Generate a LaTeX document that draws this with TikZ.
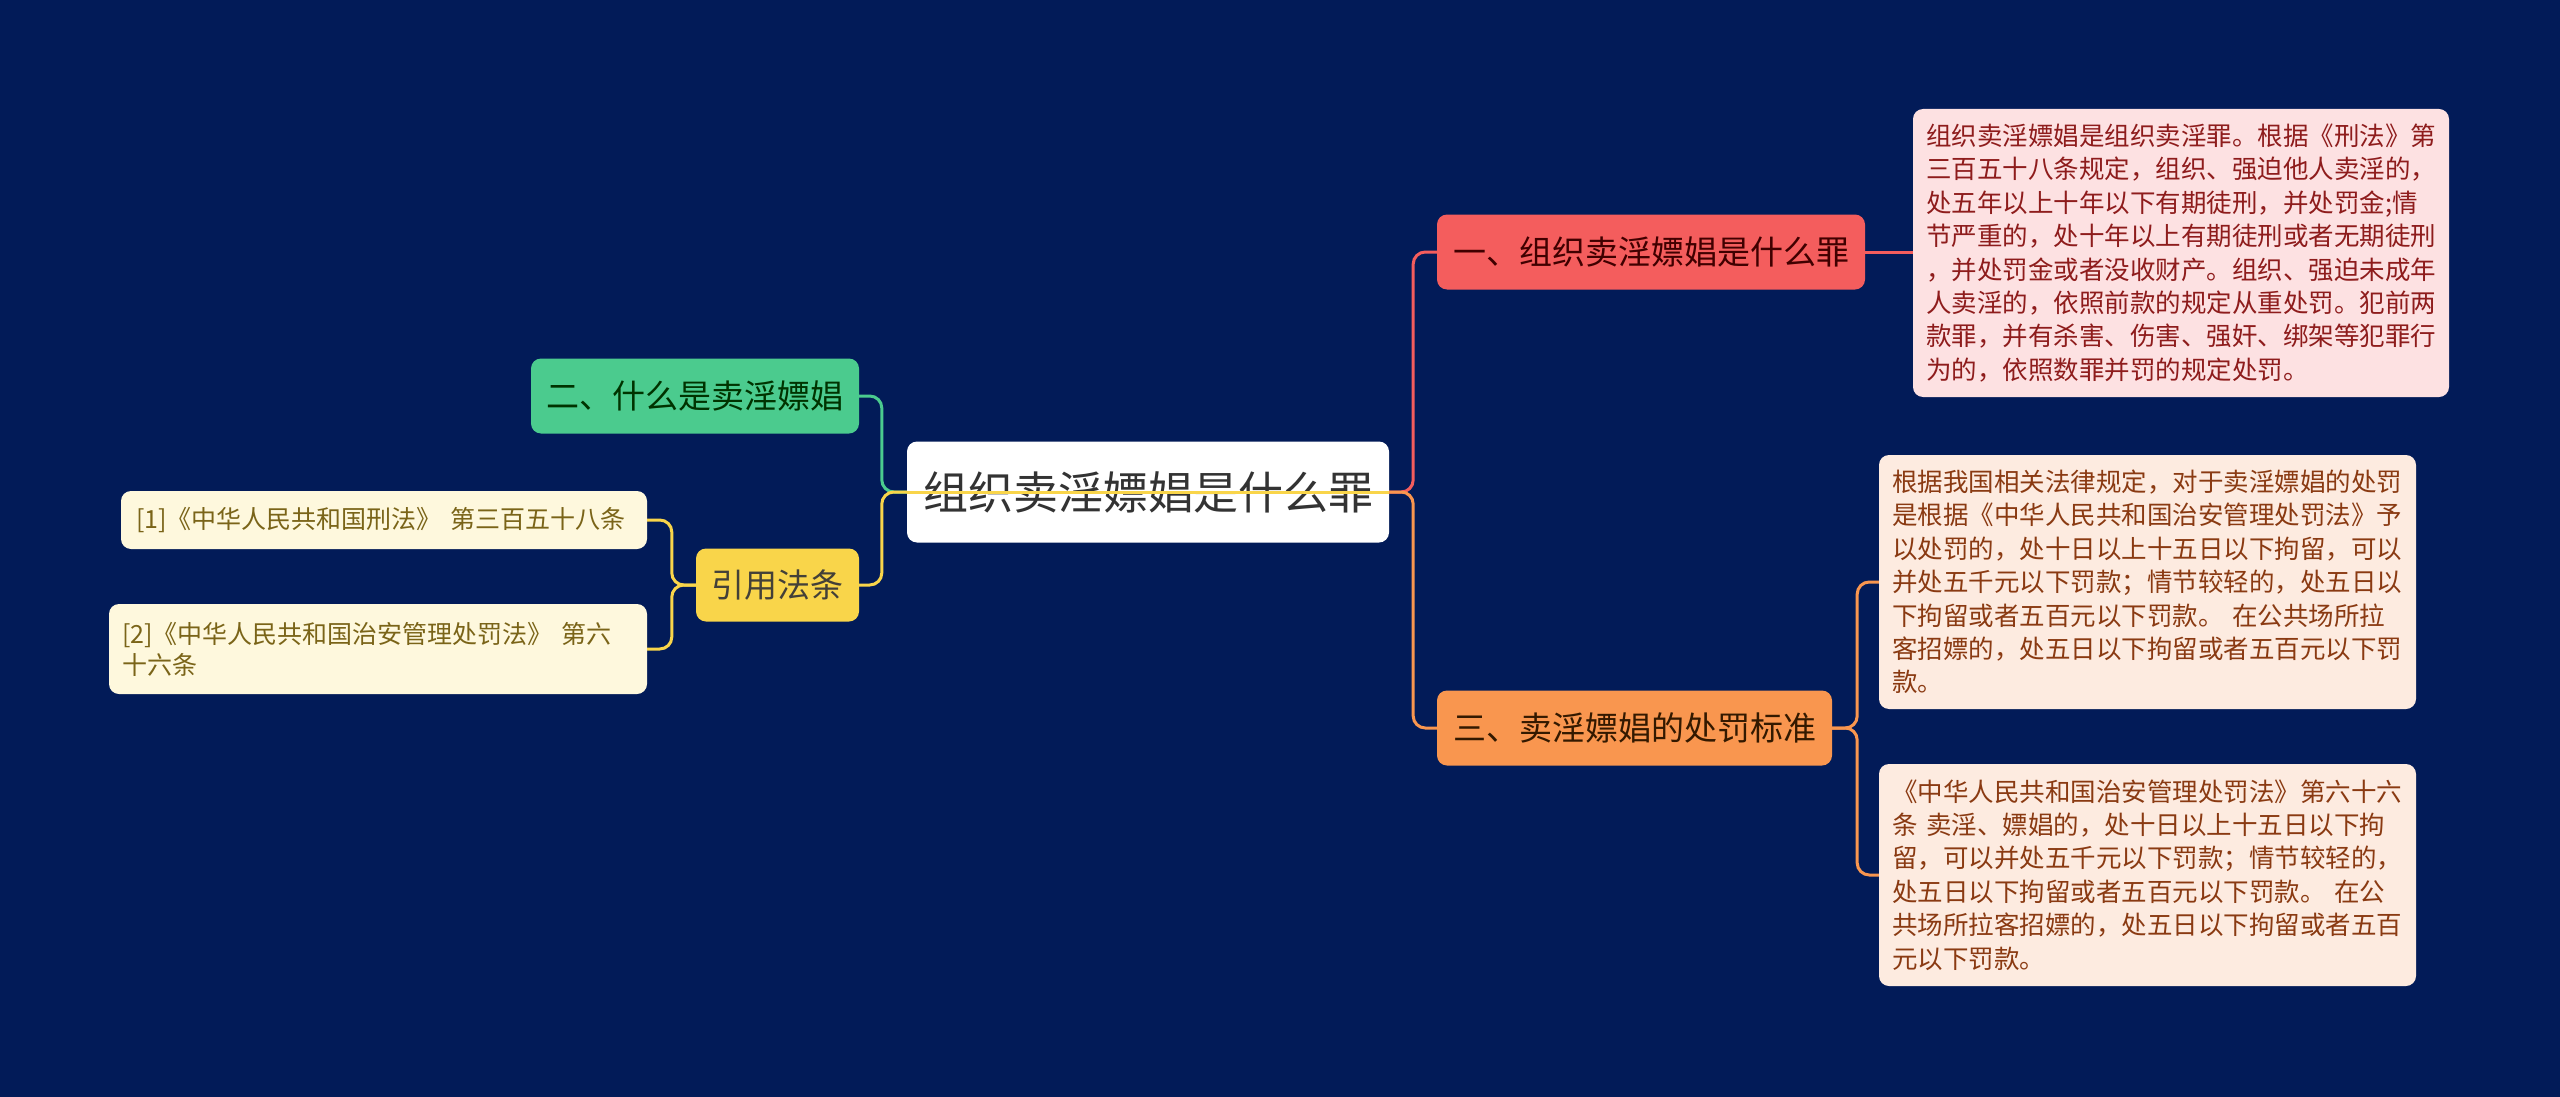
\documentclass[tikz,border=0pt]{standalone}
\usepackage{fontspec}
\setmainfont{Noto Sans CJK SC}
\definecolor{bg}{HTML}{021B58}
\definecolor{cred}{HTML}{F45D5D}
\definecolor{corg}{HTML}{F9964F}
\definecolor{cgrn}{HTML}{4BCB8E}
\definecolor{cyel}{HTML}{F9D54A}
\definecolor{cream}{HTML}{FEF8DD}
\definecolor{creamtxt}{HTML}{7A6418}
\definecolor{pink}{HTML}{FDE1E2}
\definecolor{pinktxt}{HTML}{8E1C1C}
\definecolor{peach}{HTML}{FDEBE0}
\definecolor{peachtxt}{HTML}{8A3A12}
\begin{document}
\begin{tikzpicture}[x=1pt,y=-1pt,
  box/.style={rounded corners=10pt, inner sep=0pt, align=center},
  branch/.style={box, font=\fontsize{33}{40}\selectfont, minimum height=75pt},
  leafbox/.style={rounded corners=10pt, inner xsep=13pt, inner ysep=0pt, align=left},
  conn/.style={line width=3pt, rounded corners=12pt}]
\fill[bg] (0,0) rectangle (2560,1097);
\useasboundingbox (0,0) rectangle (2560,1097);
% central
\node[box, fill=white, text=black!80, font=\fontsize{45}{54}\selectfont,
  minimum width=482pt, minimum height=101pt] (c) at (1148,492) {组织卖淫嫖娼是什么罪};
% branches
\node[branch, fill=cred, text=black!75!red, minimum width=428pt] (n1) at (1651,252) {一、组织卖淫嫖娼是什么罪};
\node[branch, fill=corg, text=black!80!orange, minimum width=395pt] (n3) at (1634.5,728) {三、卖淫嫖娼的处罚标准};
\node[branch, fill=cgrn, text=black!80!green, minimum width=328pt] (n2) at (695,396) {二、什么是卖淫嫖娼};
\node[branch, fill=cyel, text=black!85!yellow, minimum width=163pt, minimum height=73pt] (n4) at (777.5,585) {引用法条};
% left leaves
\node[leafbox, fill=cream, text=creamtxt, font=\fontsize{25}{31}\selectfont,
  inner xsep=15pt, text width=496pt, minimum height=58pt] (p1) at (384,520) {[1]《中华人民共和国刑法》 第三百五十八条};
\node[leafbox, fill=cream, text=creamtxt, font=\fontsize{25}{31}\selectfont,
  text width=512pt, minimum height=90pt] (p2) at (378,649) {[2]《中华人民共和国治安管理处罚法》 第六\\十六条};
% right leaves
\node[leafbox, fill=pink, text=pinktxt, font=\fontsize{25.5}{33.4}\selectfont,
  text width=510pt, minimum height=288pt] (t1) at (2181,253) {组织卖淫嫖娼是组织卖淫罪。根据《刑法》第\\三百五十八条规定，组织、强迫他人卖淫的，\\处五年以上十年以下有期徒刑，并处罚金;情\\节严重的，处十年以上有期徒刑或者无期徒刑\\，并处罚金或者没收财产。组织、强迫未成年\\人卖淫的，依照前款的规定从重处罚。犯前两\\款罪，并有杀害、伤害、强奸、绑架等犯罪行\\为的，依照数罪并罚的规定处罚。};
\node[leafbox, fill=peach, text=peachtxt, font=\fontsize{25.5}{33.4}\selectfont,
  text width=511pt, minimum height=254pt] (t2) at (2147.5,582) {根据我国相关法律规定，对于卖淫嫖娼的处罚\\是根据《中华人民共和国治安管理处罚法》予\\以处罚的，处十日以上十五日以下拘留，可以\\并处五千元以下罚款；情节较轻的，处五日以\\下拘留或者五百元以下罚款。 在公共场所拉\\客招嫖的，处五日以下拘留或者五百元以下罚\\款。};
\node[leafbox, fill=peach, text=peachtxt, font=\fontsize{25.5}{33.4}\selectfont,
  text width=511pt, minimum height=222pt] (t3) at (2147.5,875) {《中华人民共和国治安管理处罚法》第六十六\\条 卖淫、嫖娼的，处十日以上十五日以下拘\\留，可以并处五千元以下罚款；情节较轻的，\\处五日以下拘留或者五百元以下罚款。 在公\\共场所拉客招嫖的，处五日以下拘留或者五百\\元以下罚款。};
% connectors
\draw[conn, cred] (c.east) -- ++(24,0) |- (n1.west);
\draw[conn, corg] (c.east) -- ++(24,0) |- (n3.west);
\draw[conn, cgrn] (c.west) -- ++(-25,0) |- (n2.east);
\draw[conn, cyel] (c.west) -- ++(-25,0) |- (n4.east);
\draw[line width=3pt, cyel] (c.west) -- (c.east);
\draw[conn, cred] (n1.east) -- (t1.west |- n1.east);
\draw[conn, corg] (n3.east) -- ++(25,0) |- (t2.west);
\draw[conn, corg] (n3.east) -- ++(25,0) |- (t3.west);
\draw[conn, cyel] (n4.west) -- ++(-24,0) |- (p1.east);
\draw[conn, cyel] (n4.west) -- ++(-24,0) |- (p2.east);
\end{tikzpicture}
\end{document}
